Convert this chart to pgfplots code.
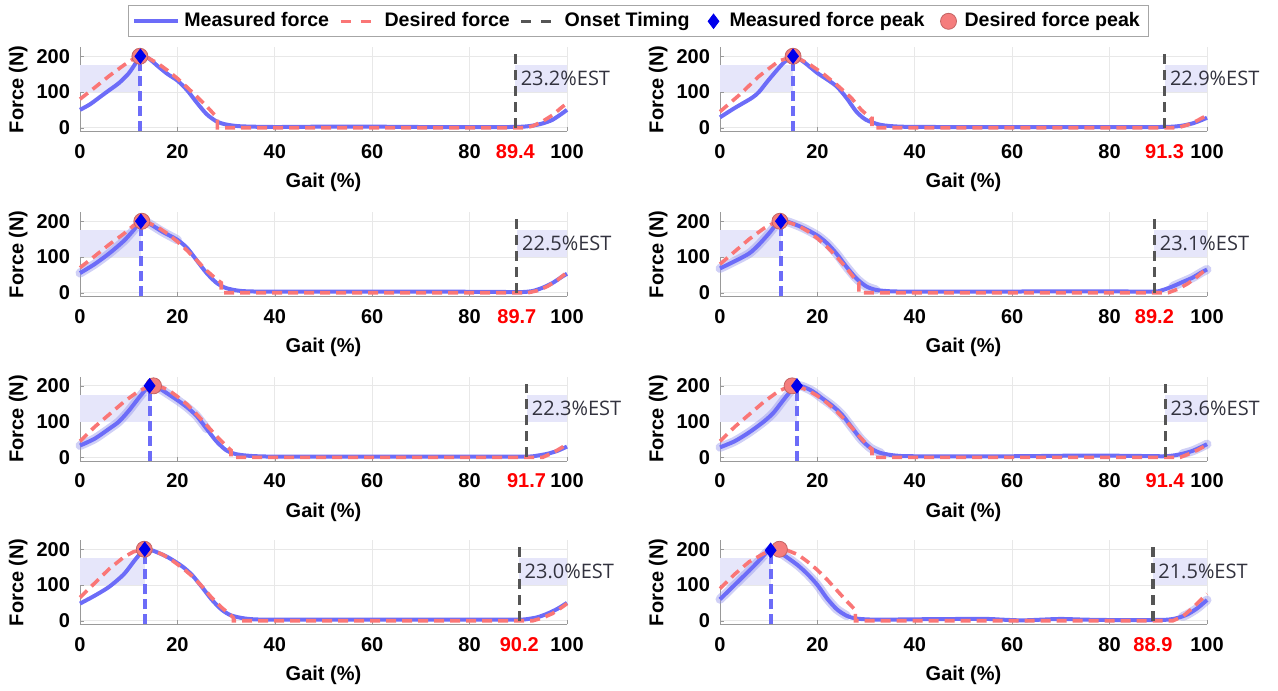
\documentclass[border=0pt]{standalone}
\usepackage{fontspec}
\setmainfont{Liberation Sans}
\newfontfamily\estfont{Open Sans}
\usepackage{pgfplots}
\pgfplotsset{compat=1.18}

\definecolor{mblue}{RGB}{108,108,248}
\definecolor{bandc}{RGB}{150,150,235}
\definecolor{dred}{RGB}{250,118,118}
\definecolor{onsetc}{RGB}{85,85,85}
\definecolor{shadec}{RGB}{230,230,250}
\definecolor{diamc}{RGB}{0,0,235}
\definecolor{circc}{RGB}{245,125,125}
\definecolor{estc}{RGB}{50,50,62}

\pgfplotsset{
  panel/.style={
    scale only axis, width=243.5pt, height=42pt,
    xmin=0, xmax=100, ymin=-10, ymax=225,
    xtick={0,20,40,60,80,100}, ytick={0,100,200},
    axis x line*=bottom, axis y line*=left,
    axis line style={-, draw=gray!80},
    tick align=inside, major tick length=2pt, tick style={gray!80},
    grid=major, major grid style={gray!18},
    /pgf/number format/assume math mode=true,
    ticklabel style={font=\bfseries\fontsize{10}{12}\selectfont},
    xticklabel style={yshift=-3pt},
    yticklabel style={xshift=-1.5pt},
    extra x tick style={grid=none, major tick length=0pt, xticklabel style={text=red}},
    xlabel={Gait (\%)}, ylabel={Force (N)},
    label style={font=\bfseries\fontsize{10}{12}\selectfont},
    xlabel style={at={(axis description cs:0.5,-0.61)}, anchor=center},
    ylabel style={at={(axis description cs:-0.127,0.5)}, anchor=center},
    clip=false,
  },
  lineleg/.style={legend image code/.code={\draw[##1] (0pt,0pt) -- (22pt,0pt);}},
  markleg/.style={legend image code/.code={\path[draw=none, fill=none] (0pt,-3pt) rectangle (16pt,3pt); \draw[##1] plot coordinates {(10pt,0pt)};}},
  meas/.style={mblue, line width=2pt, smooth, tension=0.45, forget plot},
  band/.style={bandc, line width=4.5pt, opacity=0.45, smooth, tension=0.45, line cap=round, forget plot},
  des/.style={dred, line width=1.8pt, dash pattern=on 5pt off 3pt, forget plot},
  shadefill/.style={fill=shadec, draw=none, forget plot},
  peakline/.style={mblue, line width=2pt, dash pattern=on 5pt off 2.5pt, forget plot},
  onsetline/.style={onsetc, line width=1.6pt, dash pattern=on 5pt off 3pt, forget plot},
  circ/.style={only marks, mark=*, mark size=4pt, mark options={fill=circc, draw=circc!80!black, line width=0.4pt}, forget plot},
  diam/.style={only marks, mark=diamond*, mark size=3.6pt, mark options={fill=diamc, draw=diamc}, forget plot},
}

% #1 measured peak x, #2 onset
\newcommand{\shades}[2]{%
  \addplot[shadefill] coordinates {(0,100) (#1,100) (#1,175) (0,175)} -- cycle;
  \addplot[shadefill] coordinates {(#2,100) (100,100) (100,175) (#2,175)} -- cycle;
}
% #1 measured peak x, #2 measured peak y, #3 desired peak x, #4 onset, #5 EST
\newcommand{\peaks}[5]{%
  \addplot[peakline] coordinates {(#1,-10) (#1,#2)};
  \addplot[onsetline] coordinates {(#4,0) (#4,205)};
  \addplot[circ] coordinates {(#3,200)};
  \addplot[diam] coordinates {(#1,#2)};
  \node[anchor=west, inner sep=2.5pt, text=estc, font=\estfont\fontsize{10}{12}\selectfont] at (axis cs:#4,137) {#5\%EST};
}

\begin{document}
\begin{tikzpicture}
\path[use as bounding box] (0,0) rectangle (639pt,-345pt);

% ---------- row 1 left ----------
\begin{axis}[panel, at={(40pt,-65.65pt)}, anchor=south west,
  extra x ticks={89.4}, extra x tick labels={89.4},
  legend columns=5,
  legend style={at={(1.146,1.5)}, anchor=north, draw=gray!70, fill=white,
    font=\bfseries\fontsize{9.8}{11}\selectfont, inner ysep=1.5pt, inner xsep=2pt,
    /tikz/every even column/.append style={column sep=0pt}},
]
\addlegendimage{mblue, line width=2pt, lineleg}
\addlegendentry{Measured force}
\addlegendimage{dred, line width=1.7pt, dash pattern=on 5pt off 5pt, dash phase=-3pt, lineleg}
\addlegendentry{Desired force}
\addlegendimage{onsetc, line width=1.4pt, dash pattern=on 5pt off 5pt, dash phase=-3pt, lineleg}
\addlegendentry{Onset Timing}
\addlegendimage{only marks, mark=diamond*, mark size=3.6pt, mark options={fill=diamc, draw=diamc}, markleg}
\addlegendentry{Measured force peak}
\addlegendimage{only marks, mark=*, mark size=4pt, mark options={fill=circc, draw=circc!80!black}, markleg}
\addlegendentry{Desired force peak}
\shades{12.4}{89.4}
\addplot[meas] coordinates {(0,50) (2,65) (4,85) (6,105) (8,125) (10,152) (11.5,182) (12.4,200) (14,195) (16,172) (18,150) (20,132) (22,105) (24,70) (26,38) (28,18) (30,9) (33,4) (40,2) (50,3) (60,3) (70,2) (80,2) (88,2) (91,3) (93,6) (95,12) (97,22) (99,40) (100,50)};
\addplot[des] coordinates {(0,80) (3,112) (6,145) (9,175) (11,193) (12.3,200) (14,195) (16,180) (18,160) (20,138) (22,113) (24,87) (26,60) (27.5,38) (28.2,28) (28.2,0) (40,0) (60,0) (80,0) (91.5,0) (93,5) (95,18) (97,35) (99,58) (100,68)};
\peaks{12.4}{200}{12.3}{89.4}{23.2}
\end{axis}

% ---------- row 1 right ----------
\begin{axis}[panel, at={(360pt,-65.65pt)}, anchor=south west,
  extra x ticks={91.3}, extra x tick labels={91.3}]
\shades{15.0}{91.3}
\addplot[meas] coordinates {(0,29) (3,55) (6.5,83) (8,100) (10,134) (13,181) (15,200) (17,186) (20,153) (22,135) (24,115) (26,83) (28,45) (30,22) (33,8) (37,3) (45,2) (60,2) (75,2) (90,2) (93,3) (95,6) (97,12) (99,22) (100,28)};
\addplot[des] coordinates {(0,45) (4,92) (8,144) (12,186) (15,200) (18,181) (21,153) (24,120) (27,83) (29,50) (31,26) (31.2,26) (31.2,0) (45,0) (60,0) (80,0) (94,0) (96,8) (98,20) (100,35)};
\peaks{15.0}{200}{15.0}{91.3}{22.9}
\end{axis}

% ---------- row 2 left ----------
\begin{axis}[panel, at={(40pt,-148.15pt)}, anchor=south west,
  extra x ticks={89.7}, extra x tick labels={89.7}]
\shades{12.5}{89.7}
\addplot[band] coordinates {(0,55) (3,80) (6,110) (9,145) (11,175) (12.5,200) (14,195) (17,170) (20,148)};
\addplot[meas] coordinates {(0,55) (3,80) (6,110) (9,145) (11,175) (12.5,200) (14,195) (17,170) (20,148) (22,125) (24,90) (26,55) (28,28) (30,13) (33,5) (38,3) (50,3) (60,3) (75,3) (88,2) (91,2) (93,5) (95,14) (97,27) (99,45) (100,53)};
\addplot[des] coordinates {(0,70) (3,102) (6,135) (9,165) (11,188) (12.7,200) (14,196) (16,183) (18,165) (20,143) (22,118) (24,90) (26,62) (28,38) (29,28) (29,0) (45,0) (60,0) (80,0) (92,0) (94,6) (96,18) (98,35) (100,57)};
\peaks{12.5}{200}{12.7}{89.7}{22.5}
\end{axis}

% ---------- row 2 right ----------
\begin{axis}[panel, at={(360pt,-148.15pt)}, anchor=south west,
  extra x ticks={89.2}, extra x tick labels={89.2}]
\shades{12.5}{89.2}
\addplot[band] coordinates {(0,68) (3,88) (6,110) (8,135) (10,165) (11.5,190) (12.5,200) (14,198) (17,182) (20,160) (22,138) (24,108) (26,72) (28,40) (30,18) (32,8)};
\addplot[band] coordinates {(93,18) (95,30) (97,42) (99,58) (100,65)};
\addplot[meas] coordinates {(0,68) (3,88) (6,110) (8,135) (10,165) (11.5,190) (12.5,200) (14,198) (17,182) (20,160) (22,138) (24,108) (26,72) (28,40) (30,18) (32,8) (35,4) (40,3) (55,3) (70,4) (80,4) (89,3) (91,8) (93,18) (95,30) (97,42) (99,58) (100,65)};
\addplot[des] coordinates {(0,80) (3,115) (6,150) (9,180) (11,195) (12.3,200) (14,197) (16,188) (18,172) (20,152) (22,128) (24,100) (26,68) (27.5,42) (28.5,28) (28.5,0) (45,0) (60,0) (80,0) (92,0) (94,10) (96,25) (98,45) (100,68)};
\peaks{12.5}{200}{12.3}{89.2}{23.1}
\end{axis}

% ---------- row 3 left ----------
\begin{axis}[panel, at={(40pt,-230.45pt)}, anchor=south west,
  extra x ticks={91.7}, extra x tick labels={91.7}]
\shades{14.3}{91.7}
\addplot[band] coordinates {(0,33) (3,52) (6,80) (8,100) (10,130) (12,165) (13.5,190) (14.3,200) (16,195) (18,178) (20,160) (22,140) (24,115) (26,80)};
\addplot[meas] coordinates {(0,33) (3,52) (6,80) (8,100) (10,130) (12,165) (13.5,190) (14.3,200) (16,195) (18,178) (20,160) (22,140) (24,115) (26,80) (28,45) (30,20) (32,9) (35,4) (40,2) (55,2) (70,2) (85,2) (92,2) (94,5) (96,10) (98,18) (100,30)};
\addplot[des] coordinates {(0,45) (3,85) (6,120) (9,155) (12,185) (14,197) (15.1,200) (16.5,197) (18,190) (20,170) (22,148) (24,120) (26,90) (28,60) (30,32) (31,20) (31,0) (45,0) (60,0) (80,0) (95,0) (97,12) (99,28) (100,38)};
\peaks{14.3}{200}{15.1}{91.7}{22.3}
\end{axis}

% ---------- row 3 right ----------
\begin{axis}[panel, at={(360pt,-230.45pt)}, anchor=south west,
  extra x ticks={91.4}, extra x tick labels={91.4}]
\shades{15.8}{91.4}
\addplot[band] coordinates {(0,28) (3,45) (6,70) (9,100) (11,125) (13,160) (14.5,185) (15.8,200) (17,198) (19,185) (21,165) (23,145) (25,120) (27,85) (29,50) (31,25) (33,12)};
\addplot[band] coordinates {(95,10) (97,18) (99,30) (100,37)};
\addplot[meas] coordinates {(0,28) (3,45) (6,70) (9,100) (11,125) (13,160) (14.5,185) (15.8,200) (17,198) (19,185) (21,165) (23,145) (25,120) (27,85) (29,50) (31,25) (33,12) (36,5) (40,3) (60,3) (75,5) (85,4) (91,3) (93,5) (95,10) (97,18) (99,30) (100,37)};
\addplot[des] coordinates {(0,45) (3,85) (6,120) (9,155) (12,185) (14,197) (14.8,200) (16,198) (18,188) (20,172) (22,152) (24,128) (26,100) (28,68) (30,38) (31.2,22) (31.2,0) (45,0) (60,0) (80,0) (94.5,0) (96,8) (98,20) (100,35)};
\peaks{15.8}{200}{14.8}{91.4}{23.6}
\end{axis}

% ---------- row 4 left ----------
\begin{axis}[panel, at={(40pt,-312.15pt)}, anchor=south west,
  extra x ticks={90.2}, extra x tick labels={90.2}]
\shades{13.3}{90.2}
\addplot[meas] coordinates {(0,48) (3,70) (6,95) (9,130) (11,165) (12.5,190) (13.3,200) (15,196) (18,178) (21,152) (23,128) (25,95) (27,60) (29,32) (31,15) (34,6) (38,3) (50,3) (65,3) (80,3) (90,3) (92,5) (94,10) (96,20) (98,33) (100,50)};
\addplot[des] coordinates {(0,65) (3,105) (6,145) (9,178) (11,193) (13.2,200) (15,196) (17,185) (19,168) (21,148) (23,125) (25,97) (27,65) (29,38) (31,15) (31.5,8) (31.5,0) (45,0) (60,0) (80,0) (93,0) (95,8) (97,20) (99,38) (100,48)};
\peaks{13.3}{200}{13.2}{90.2}{23.0}
\end{axis}

% ---------- row 4 right ----------
\begin{axis}[panel, at={(360pt,-312.15pt)}, anchor=south west,
  extra x ticks={88.9}, extra x tick labels={88.9}]
\shades{10.4}{88.9}
\addplot[band] coordinates {(0,60) (3,100) (6,140) (8,168) (9.5,190) (10.4,198) (12,193) (14,175) (16,155) (18,130) (20,100) (22,62) (24,32) (26,14)};
\addplot[band] coordinates {(95,12) (96,18) (98,35) (100,58)};
\addplot[meas] coordinates {(0,60) (3,100) (6,140) (8,168) (9.5,190) (10.4,198) (12,193) (14,175) (16,155) (18,130) (20,100) (22,62) (24,32) (26,14) (28,6) (32,3) (40,4) (50,5) (55,5) (58,3) (62,1) (66,3) (70,5) (75,3) (80,2) (88,2) (92,3) (94,8) (96,18) (98,35) (100,58)};
\addplot[des] coordinates {(0,90) (3,130) (6,165) (9,188) (11,198) (12.2,200) (14,196) (16,185) (18,165) (20,142) (22,115) (24,85) (26,55) (27.8,30) (27.8,0) (45,0) (60,0) (80,0) (93,0) (95,12) (97,35) (99,62) (100,75)};
\peaks{10.4}{197}{12.2}{88.9}{21.5}
\end{axis}

\end{tikzpicture}
\end{document}
